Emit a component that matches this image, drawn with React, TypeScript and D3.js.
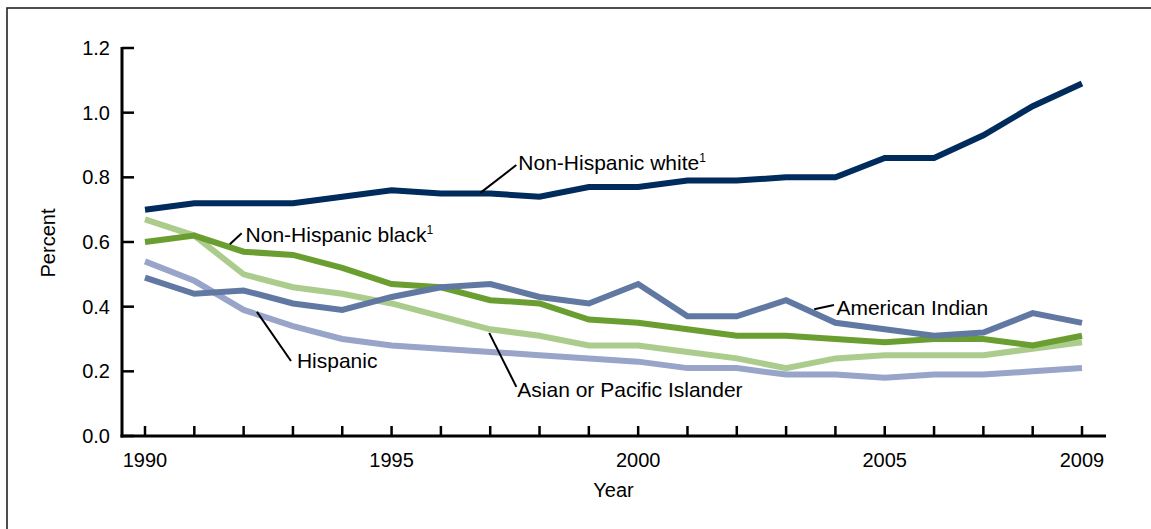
import React from "react";
import * as d3 from "d3";

const years = d3.range(1990, 2010);
const yTicks = [0, 0.2, 0.4, 0.6, 0.8, 1.0, 1.2];
const xTickLabels = [1990, 1995, 2000, 2005, 2009];

const nonHispanicWhite = [0.70, 0.72, 0.72, 0.72, 0.74, 0.76, 0.75, 0.75, 0.74, 0.77, 0.77, 0.79, 0.79, 0.80, 0.80, 0.86, 0.86, 0.93, 1.02, 1.09];
const nonHispanicBlack = [0.60, 0.62, 0.57, 0.56, 0.52, 0.47, 0.46, 0.42, 0.41, 0.36, 0.35, 0.33, 0.31, 0.31, 0.30, 0.29, 0.30, 0.30, 0.28, 0.31];
const americanIndian = [0.49, 0.44, 0.45, 0.41, 0.39, 0.43, 0.46, 0.47, 0.43, 0.41, 0.47, 0.37, 0.37, 0.42, 0.35, 0.33, 0.31, 0.32, 0.38, 0.35];
const asianPacific = [0.67, 0.62, 0.50, 0.46, 0.44, 0.41, 0.37, 0.33, 0.31, 0.28, 0.28, 0.26, 0.24, 0.21, 0.24, 0.25, 0.25, 0.25, 0.27, 0.29];
const hispanic = [0.54, 0.48, 0.39, 0.34, 0.30, 0.28, 0.27, 0.26, 0.25, 0.24, 0.23, 0.21, 0.21, 0.19, 0.19, 0.18, 0.19, 0.19, 0.20, 0.21];

const series = [
  { name: "Asian or Pacific Islander", values: asianPacific, color: "#abcc8c" },
  { name: "Hispanic", values: hispanic, color: "#98a5c9" },
  { name: "Non-Hispanic black", values: nonHispanicBlack, color: "#6b9e30" },
  { name: "American Indian", values: americanIndian, color: "#6179a2" },
  { name: "Non-Hispanic white", values: nonHispanicWhite, color: "#002c5d" },
];

// annotations in data units: leader from (x1,y1) to (x2,y2), text at (tx,ty)
const annotations = [
  { text: "Non-Hispanic white", sup: true, x1: 1996.8, y1: 0.752, x2: 1997.53, y2: 0.838, tx: 1997.57, ty: 0.823 },
  { text: "Non-Hispanic black", sup: true, x1: 1991.72, y1: 0.593, x2: 1991.96, y2: 0.627, tx: 1992.04, ty: 0.6 },
  { text: "Hispanic", sup: false, x1: 1992.27, y1: 0.384, x2: 1992.96, y2: 0.232, tx: 1993.08, ty: 0.211 },
  { text: "Asian or Pacific Islander", sup: false, x1: 1996.98, y1: 0.319, x2: 1997.53, y2: 0.152, tx: 1997.55, ty: 0.121 },
  { text: "American Indian", sup: false, x1: 2003.57, y1: 0.392, x2: 2003.97, y2: 0.405, tx: 2004.02, ty: 0.375 },
];

const W = 1151;
const H = 529;
const FONT = "'Liberation Sans', Arial, Helvetica, sans-serif";

export default function App() {
  const x = d3.scaleLinear().domain([1990, 2009]).range([145, 1082]);
  const y = d3.scaleLinear().domain([0, 1.2]).range([436, 48]);
  const line = d3
    .line<number>()
    .x((_, i) => x(years[i]))
    .y((d) => y(d));

  const axisLeft = 122;
  const axisBottom = y(0);

  return (
    <svg
      width={W}
      height={H}
      style={{ position: "absolute", left: 0, top: 0, background: "#fff" }}
      fontFamily={FONT}
    >
      <rect x={7} y={8} width={W + 20} height={H + 20} fill="#fff" stroke="#222" strokeWidth={1.6} />

      {/* y axis */}
      <line x1={axisLeft} x2={axisLeft} y1={y(1.2) - 1} y2={axisBottom + 1.5} stroke="#000" strokeWidth={3} />
      {yTicks.map((t) => (
        <g key={t}>
          <line x1={axisLeft} x2={axisLeft + 12} y1={y(t)} y2={y(t)} stroke="#000" strokeWidth={2.5} />
          <text x={110} y={y(t)} dy="0.35em" textAnchor="end" fontSize={20} fill="#000">
            {t.toFixed(1)}
          </text>
        </g>
      ))}

      {/* x axis */}
      <line x1={axisLeft - 1.5} x2={1106} y1={axisBottom} y2={axisBottom} stroke="#000" strokeWidth={3} />
      {years.map((yr) => (
        <line key={yr} x1={x(yr)} x2={x(yr)} y1={axisBottom} y2={axisBottom - 10} stroke="#000" strokeWidth={2.5} />
      ))}
      {xTickLabels.map((yr) => (
        <text key={yr} x={x(yr)} y={467} textAnchor="middle" fontSize={20} fill="#000">
          {yr}
        </text>
      ))}

      <text x={x(1999.5)} y={497} textAnchor="middle" fontSize={20} fill="#000">
        Year
      </text>
      <text
        transform={`translate(55,243) rotate(-90)`}
        textAnchor="middle"
        fontSize={20}
        fill="#000"
      >
        Percent
      </text>

      {/* series */}
      {series.map((s) => (
        <path
          key={s.name}
          d={line(s.values) || ""}
          fill="none"
          stroke={s.color}
          strokeWidth={6}
          strokeLinejoin="miter"
          strokeLinecap="butt"
        />
      ))}

      {/* annotations */}
      {annotations.map((a) => (
        <g key={a.text}>
          <line x1={x(a.x1)} y1={y(a.y1)} x2={x(a.x2)} y2={y(a.y2)} stroke="#000" strokeWidth={2} />
          <text x={x(a.tx)} y={y(a.ty)} fontSize={21} fill="#000">
            {a.text}
            {a.sup && (
              <tspan fontSize={12} dy={-8}>
                1
              </tspan>
            )}
          </text>
        </g>
      ))}
    </svg>
  );
}
